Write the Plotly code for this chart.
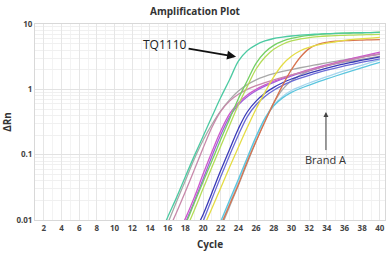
import plotly.graph_objects as go

# ---------------- data ----------------
cycles = list(range(1, 41))
x_ticks = list(range(2, 41, 2))
y_tick_vals = [0.01, 0.1, 1, 10]
y_tick_text = ["0.01", "0.1", "1", "10"]
y_minor_vals = [m * d for d in (0.01, 0.1, 1) for m in range(2, 10)]

# TQ1110 curves (start cycle, values)
teal_start = 15
teal = [0.0053, 0.011, 0.022, 0.046, 0.095, 0.19, 0.38, 0.75, 1.4, 2.7, 3.9, 4.8, 5.5,
        6.0, 6.3, 6.55, 6.75, 6.9, 7.0, 7.1, 7.2, 7.25, 7.3, 7.35, 7.4, 7.45]
green_start = 17
green = [0.0045, 0.0085, 0.018, 0.038, 0.08, 0.17, 0.35, 0.72, 1.35, 2.5, 3.7, 4.7, 5.45,
         6.0, 6.4, 6.7, 6.9, 7.05, 7.15, 7.25, 7.3, 7.35, 7.4, 7.5]
lightgreen_start = 17
lightgreen = [0.0035, 0.0068, 0.014, 0.03, 0.064, 0.135, 0.28, 0.58, 1.1, 2.05, 3.1, 4.1, 4.9,
              5.5, 5.9, 6.2, 6.4, 6.55, 6.65, 6.72, 6.78, 6.83, 6.88, 6.92]
yellow_start = 20
yellow = [0.0075, 0.015, 0.031, 0.064, 0.13, 0.26, 0.5, 0.9, 1.55, 2.4, 3.2, 3.9, 4.4,
          4.8, 5.1, 5.35, 5.6, 5.8, 5.95, 6.1, 6.25]
red_start = 22
red = [0.0082, 0.017, 0.035, 0.078, 0.16, 0.32, 0.62, 1.15, 2.0, 3.1, 4.2, 4.9, 5.25,
       5.45, 5.55, 5.62, 5.67, 5.72, 5.76]

# Brand A curves
pink_start = 16
pink = [0.0065, 0.013, 0.027, 0.058, 0.125, 0.26, 0.46, 0.66, 0.84, 1.0, 1.14, 1.27, 1.4,
        1.53, 1.66, 1.8, 1.95, 2.12, 2.3, 2.5, 2.7, 2.9, 3.1, 3.3, 3.5]
gray1_start = 16
gray1 = [0.0088, 0.019, 0.04, 0.085, 0.165, 0.29, 0.47, 0.69, 0.94, 1.18, 1.4, 1.58, 1.74,
         1.88, 2.01, 2.14, 2.27, 2.4, 2.54, 2.68, 2.83, 2.98, 3.13, 3.28, 3.44]
magenta_start = 17
magenta = [0.0055, 0.0105, 0.022, 0.05, 0.11, 0.23, 0.42, 0.62, 0.82, 1.0, 1.17, 1.33, 1.49,
           1.65, 1.82, 2.0, 2.18, 2.37, 2.57, 2.78, 3.0, 3.22, 3.45, 3.7]
violet_start = 18
violet = [0.009, 0.019, 0.042, 0.094, 0.2, 0.38, 0.58, 0.77, 0.95, 1.12, 1.28, 1.44, 1.6,
          1.77, 1.94, 2.12, 2.3, 2.5, 2.7, 2.9, 3.1, 3.3, 3.5]
blue_start = 19
blue = [0.0065, 0.012, 0.026, 0.057, 0.12, 0.25, 0.45, 0.66, 0.87, 1.07, 1.26, 1.44, 1.6,
        1.77, 1.94, 2.11, 2.28, 2.45, 2.62, 2.79, 2.96, 3.13]
blue2_start = 20
blue2 = [0.0095, 0.021, 0.046, 0.097, 0.2, 0.38, 0.58, 0.78, 0.97, 1.15, 1.32, 1.48, 1.64,
         1.8, 1.96, 2.12, 2.28, 2.44, 2.6, 2.76, 2.92]
cyan_start = 22
cyan = [0.0095, 0.02, 0.042, 0.09, 0.19, 0.36, 0.56, 0.74, 0.9, 1.03, 1.16, 1.3, 1.44,
        1.6, 1.77, 1.95, 2.15, 2.36, 2.58]
lightblue_start = 22
lightblue = [0.0085, 0.018, 0.039, 0.085, 0.18, 0.35, 0.57, 0.78, 0.96, 1.1, 1.25, 1.4, 1.56,
             1.74, 1.93, 2.13, 2.35, 2.58, 2.82]
gray2_start = 22
gray2 = [0.0075, 0.016, 0.034, 0.074, 0.16, 0.33, 0.62, 1.0, 1.35, 1.65, 1.9, 2.1, 2.28,
         2.45, 2.6, 2.75, 2.9, 3.05, 3.2]

series = [
    ("gray1", gray1_start, gray1, "#a8a8a8"),
    ("gray2", gray2_start, gray2, "#a8a8a8"),
    ("lightblue", lightblue_start, lightblue, "#a6d6ee"),
    ("cyan", cyan_start, cyan, "#5cc6de"),
    ("blue2", blue2_start, blue2, "#6a6ad6"),
    ("blue", blue_start, blue, "#3a3ab8"),
    ("violet", violet_start, violet, "#a060dc"),
    ("magenta", magenta_start, magenta, "#cc58cc"),
    ("pink", pink_start, pink, "#c888aa"),
    ("red", red_start, red, "#d8734e"),
    ("yellow", yellow_start, yellow, "#e4dc44"),
    ("lightgreen", lightgreen_start, lightgreen, "#b4dc58"),
    ("green", green_start, green, "#74d064"),
    ("teal", teal_start, teal, "#4ccaa2"),
]

fig = go.Figure()
for name, start, vals, color in series:
    fig.add_trace(go.Scatter(
        x=cycles[start - 1:start - 1 + len(vals)], y=vals, mode="lines",
        line=dict(color=color, width=1.3, shape="spline"), name=name,
        showlegend=False, hoverinfo="skip"))

font_family = "Open Sans, DejaVu Sans, sans-serif"

fig.update_layout(
    width=390, height=253,
    margin=dict(l=31, r=4, t=24, b=31),
    paper_bgcolor="white", plot_bgcolor="white",
    title=dict(text="<b>Amplification Plot</b>", x=0.5, xanchor="center",
               y=0.955, yanchor="middle",
               font=dict(family=font_family, size=10, color="#333333")),
    font=dict(family=font_family, color="#333333"),
    hovermode=False,
)

fig.update_xaxes(
    range=[1, 40.58], tickmode="array", tickvals=x_ticks,
    ticktext=[f"<b>{t}</b>" for t in x_ticks],
    tickfont=dict(size=8, color="#444444"), ticks="", ticklen=0,
    showgrid=True, gridcolor="#e6e6e6", gridwidth=1,
    minor=dict(dtick=1, showgrid=True, gridcolor="#f3f3f3", gridwidth=1),
    showline=True, linecolor="#d8d8d8", mirror=True, zeroline=False,
    title=dict(text="<b>Cycle</b>", font=dict(size=10, color="#333333"), standoff=9),
)
fig.update_yaxes(
    type="log", range=[-2, 1], tickmode="array", tickvals=y_tick_vals,
    ticktext=[f"<b>{t}</b>" for t in y_tick_text],
    tickfont=dict(size=8, color="#444444"), ticks="", ticklen=0,
    showgrid=True, gridcolor="#e2e2e2", gridwidth=1,
    minor=dict(tickmode="array", tickvals=y_minor_vals, showgrid=True,
               gridcolor="#f0f0f0", gridwidth=1),
    showline=True, linecolor="#d8d8d8", mirror=True, zeroline=False,
    title=dict(text="<b>ΔRn</b>", font=dict(size=10, color="#333333"), standoff=5),
)

fig.add_annotation(
    x=23.74, y=0.5, xref="x", yref="y", axref="pixel", ayref="pixel",
    ax=-71, ay=-12, text="TQ1110", showarrow=True,
    arrowhead=2, arrowsize=1, arrowwidth=1.8, arrowcolor="#111111",
    font=dict(family=font_family, size=12, color="#222222"))
fig.add_annotation(
    x=33.9, y=-0.348, xref="x", yref="y", ax=0, ay=47,
    text="Brand A", showarrow=True,
    arrowhead=2, arrowsize=1, arrowwidth=1, arrowcolor="#444444",
    font=dict(family=font_family, size=11, color="#333333"))

fig.write_html("out.html", config={"displayModeBar": False, "staticPlot": True},
               post_script="document.body.style.margin='0';document.body.style.padding='0';")
